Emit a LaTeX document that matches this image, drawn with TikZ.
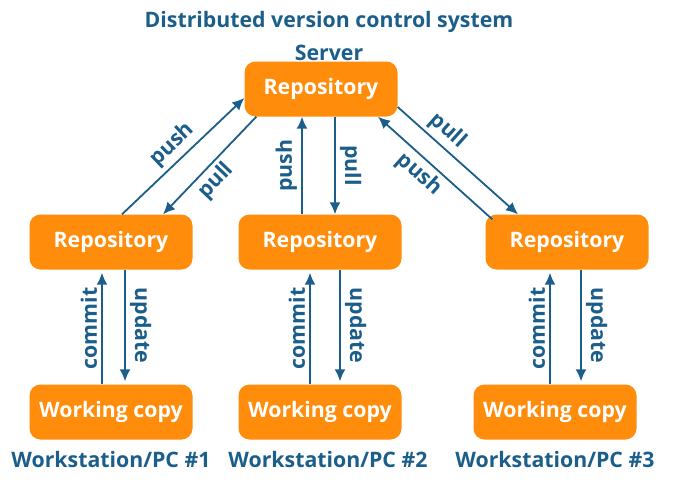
\documentclass[tikz,border=0pt]{standalone}
\usepackage{fontspec}
\setmainfont{Open Sans}
\usepackage{tikz}
\usetikzlibrary{arrows.meta}
\usetikzlibrary{calc}
\usetikzlibrary{positioning}
\definecolor{RepoOrange}{RGB}{255,140,10}
\definecolor{GitBlue}{RGB}{27,94,138}

\begin{document}
\begin{tikzpicture}[x=1pt,y=-1pt,
    repo/.style={rectangle,rounded corners=11pt,fill=RepoOrange,text=white,
      font=\fontsize{21.3}{25}\selectfont\bfseries,minimum width=163pt,minimum height=55pt},
    flow/.style={->,>={Latex[length=12pt,width=11pt]},line width=1.8pt,GitBlue},
    lbl/.style={text=GitBlue,font=\fontsize{21.3}{25}\selectfont\bfseries,inner sep=4pt}]
      \useasboundingbox (0,0) rectangle (689,480);
      \node[lbl] (title) at (329,22) {Distributed version control system};
      \node[repo,minimum width=153pt] (srv) at (321,89) {Repository};
      \node[lbl] (server) at (329,53) {Server};
      \node[repo] (r1) at (111,242) {Repository};
      \node[repo] (r2) at (320,242) {Repository};
      \node[repo] (r3) at (567,242) {Repository};
      \node[repo] (w1) at (111,412) {Working copy};
      \node[repo] (w2) at (320,412) {Working copy};
      \node[repo] (w3) at (555,412) {Working copy};
      \node[lbl,below=7pt of w1] (pc1) {Workstation/PC \#1};
      \node[lbl,below=7pt of w2,xshift=8pt] (pc2) {Workstation/PC \#2};
      \node[lbl,below=7pt of w3] (pc3) {Workstation/PC \#3};
      % server <-> local repositories
      \draw[flow] ($(r1.north)+(11,0)$) -- ($(srv.west)+(0,9)$) node[midway,above,sloped,lbl] {push};
      \draw[flow] ($(srv.south west)+(12,0)$) -- ($(r1.north)+(52,0)$) node[pos=0.55,below,sloped,lbl] {pull};
      \draw[flow] ($(r2.north)+(-18,0)$) -- ($(srv.south)+(-19,0)$) node[midway,above,sloped,lbl] {push};
      \draw[flow] ($(srv.south)+(14,0)$) -- ($(r2.north)+(15,0)$) node[midway,above,sloped,lbl] {pull};
      \draw[flow] ($(r3.north west)+(7,5)$) -- ($(srv.south)+(57,0)$) node[pos=0.55,below,sloped,lbl] {push};
      \draw[flow] ($(srv.east)+(0,18)$) -- ($(r3.north)+(-49,0)$) node[pos=0.33,above,sloped,lbl] {pull};
      % local repositories <-> working copies
      \draw[flow] ($(w1.north)+(-9,0)$) -- ($(r1.south)+(-9,3)$) node[midway,above,sloped,lbl] {commit};
      \draw[flow] ($(r1.south)+(14,0)$) -- ($(w1.north)+(14,-3)$) node[midway,above,sloped,lbl] {update};
      \draw[flow] ($(w2.north)+(-10,0)$) -- ($(r2.south)+(-10,3)$) node[midway,above,sloped,lbl] {commit};
      \draw[flow] ($(r2.south)+(20,0)$) -- ($(w2.north)+(20,-3)$) node[midway,above,sloped,lbl] {update};
      \draw[flow] ($(w3.north)+(-5,0)$) -- ($(r3.south)+(-17,3)$) node[midway,above,sloped,lbl] {commit};
      \draw[flow] ($(r3.south)+(14,0)$) -- ($(w3.north)+(26,-3)$) node[midway,above,sloped,lbl] {update};
    \end{tikzpicture}
\end{document}
